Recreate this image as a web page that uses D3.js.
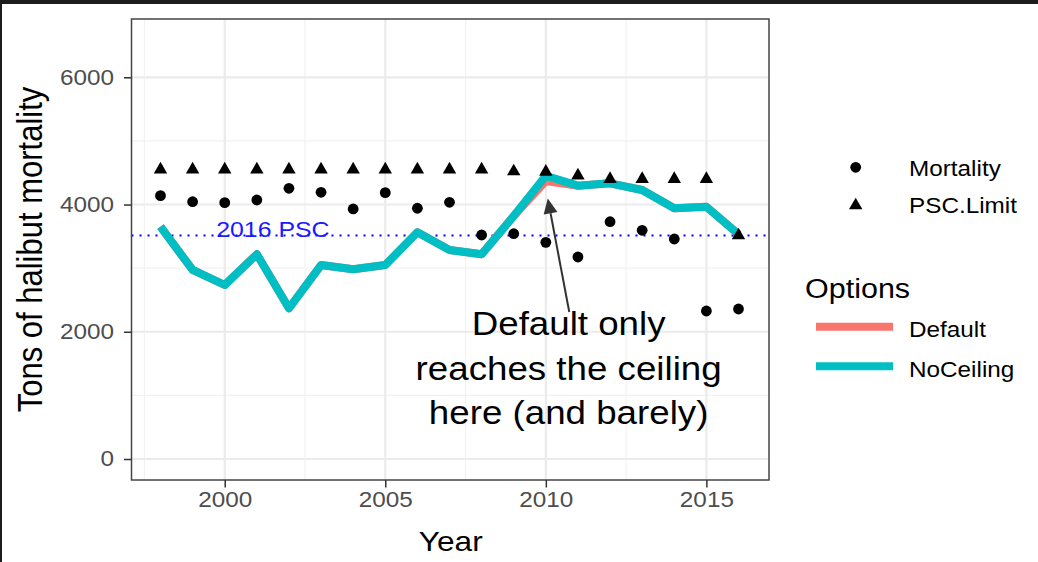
<!DOCTYPE html>
<html><head><meta charset="utf-8">
<script src="https://cdn.jsdelivr.net/npm/d3@7"></script>
<style>body{margin:0;background:#fff}svg{display:block}text{font-family:"Liberation Sans",Arial,Helvetica,sans-serif}</style>
</head><body><svg id="c" width="1038" height="562"></svg>
<script>
// ---- data ----
const years      = [1998,1999,2000,2001,2002,2003,2004,2005,2006,2007,2008,2009,2010,2011,2012,2013,2014,2015,2016];
const mortality  = [4139,4044,4029,4071,4255,4192,3930,4186,3941,4035,3521,3541,3406,3175,3730,3595,3458,2326,2358];
const pscLimit   = [4550,4550,4550,4550,4550,4550,4550,4550,4550,4550,4550,4520,4515,4455,4400,4400,4400,4400,3515];
const noCeiling  = [3651,2971,2735,3218,2369,3049,2982,3049,3563,3285,3218,3820,4453,4296,4333,4228,3940,3966,3532];
const defaultOpt = [3651,2971,2735,3218,2369,3049,2982,3049,3563,3285,3218,3820,4370,4296,4333,4228,3940,3966,3532];
const psc2016 = 3515;
const xMajor = [2000,2005,2010,2015];
const xMinor = [1997.5,2002.5,2007.5,2012.5];
const yMajor = [0,2000,4000,6000];
const yMinor = [1000,3000,5000];
const optionNames = ["Default","NoCeiling"];
const optionColors = ["#F8766D","#00BFC4"];
const shapeNames = ["Mortality","PSC.Limit"];
const noteLines = ["Default only","reaches the ceiling","here (and barely)"];

// ---- setup ----
const W=1038,H=562,SX=1.13;
const svg=d3.select("#c");
svg.append("rect").attr("width",W).attr("height",H).attr("fill","#fff");
svg.append("rect").attr("x",0).attr("y",0).attr("width",W).attr("height",4).attr("fill","#1c1c1c");
svg.append("rect").attr("x",0).attr("y",0).attr("width",2).attr("height",H).attr("fill","#1c1c1c");

const P={l:131.5,r:769,t:19,b:480};
const x=d3.scaleLinear().domain([1997.097,2016.95]).range([P.l,P.r]);
const y=d3.scaleLinear().domain([-330,6916]).range([P.b,P.t]);

function stretchX(sel){
  sel.each(function(){
    const e=d3.select(this);
    const tx=+e.attr("x")||0, ty=+e.attr("y")||0;
    const pre=e.attr("transform")||"";
    e.attr("transform",`${pre} translate(${tx},${ty}) scale(${SX},1) translate(${-tx},${-ty})`);
  });
}

// grid
const g=svg.append("g");
g.selectAll(".xm").data(xMinor).join("line").attr("x1",d=>x(d)).attr("x2",d=>x(d)).attr("y1",P.t).attr("y2",P.b).attr("stroke","#f2f2f2").attr("stroke-width",1.2);
g.selectAll(".ym").data(yMinor).join("line").attr("y1",d=>y(d)).attr("y2",d=>y(d)).attr("x1",P.l).attr("x2",P.r).attr("stroke","#f2f2f2").attr("stroke-width",1.2);
g.selectAll(".xM").data(xMajor).join("line").attr("x1",d=>x(d)).attr("x2",d=>x(d)).attr("y1",P.t).attr("y2",P.b).attr("stroke","#ebebeb").attr("stroke-width",2.2);
g.selectAll(".yM").data(yMajor).join("line").attr("y1",d=>y(d)).attr("y2",d=>y(d)).attr("x1",P.l).attr("x2",P.r).attr("stroke","#ebebeb").attr("stroke-width",2.2);

// PSC line
svg.append("line").attr("x1",P.l).attr("x2",P.r).attr("y1",y(psc2016)).attr("y2",y(psc2016))
  .attr("stroke","#0000ff").attr("stroke-width",2).attr("stroke-dasharray","2,6");
svg.append("text").attr("x",x(2001.5)).attr("y",y(3494)).attr("text-anchor","middle")
  .attr("font-size",22).attr("fill","#1a1aff").text("2016 PSC").call(stretchX);

// lines
const line=d3.line().x((d,i)=>x(years[i])).y(d=>y(d));
[defaultOpt,noCeiling].forEach((s,k)=>{
  svg.append("path").attr("d",line(s)).attr("fill","none").attr("stroke",optionColors[k])
    .attr("stroke-width",8).attr("stroke-linejoin","round");
});

// points
svg.append("g").selectAll("circle").data(mortality).join("circle")
  .attr("cx",(d,i)=>x(years[i])).attr("cy",d=>y(d)).attr("r",5.4).attr("fill","#000");
const tri=d3.symbol().type(d3.symbolTriangle).size(78);
svg.append("g").selectAll("path").data(pscLimit).join("path")
  .attr("d",tri).attr("transform",(d,i)=>`translate(${x(years[i])},${y(d)})`).attr("fill","#000");

// panel border
svg.append("rect").attr("x",P.l).attr("y",P.t).attr("width",P.r-P.l).attr("height",P.b-P.t)
  .attr("fill","none").attr("stroke","#444").attr("stroke-width",1.5);

// axes
const ya=svg.append("g").attr("transform",`translate(${P.l},0)`)
  .call(d3.axisLeft(y).tickValues(yMajor).tickSize(7.5).tickPadding(10).tickFormat(d3.format("d")));
const xa=svg.append("g").attr("transform",`translate(0,${P.b})`)
  .call(d3.axisBottom(x).tickValues(xMajor).tickSize(7.5).tickPadding(4.5).tickFormat(d3.format("d")));
[ya,xa].forEach(a=>{
  a.select(".domain").remove();
  a.selectAll(".tick line").attr("stroke","#333").attr("stroke-width",1.5);
  a.selectAll(".tick text").attr("font-size",21.5).attr("fill","#4d4d4d").attr("font-family",null).call(stretchX);
});

// axis titles
svg.append("text").attr("x",x(2007.04)).attr("y",551).attr("text-anchor","middle").attr("font-size",28)
  .attr("fill","#000").text("Year").call(stretchX);
svg.append("text").attr("transform",`translate(42,${(P.t+P.b)/2}) rotate(-90) scale(1,${SX})`)
  .attr("text-anchor","middle").attr("font-size",31).attr("fill","#000").text("Tons of halibut mortality");

// annotation
const tip=[x(2010.06),y(4095)], st=[x(2010.73),y(2311)];
const dx=tip[0]-st[0], dy=tip[1]-st[1], L=Math.hypot(dx,dy), ux=dx/L, uy=dy/L;
const hl=15, hw=7;
const bx=tip[0]-ux*hl, by=tip[1]-uy*hl;
svg.append("line").attr("x1",st[0]).attr("y1",st[1]).attr("x2",bx).attr("y2",by).attr("stroke","#333").attr("stroke-width",2);
svg.append("path").attr("d",`M${tip[0]},${tip[1]}L${bx-uy*hw},${by+ux*hw}L${bx+uy*hw},${by-ux*hw}Z`).attr("fill","#333");
svg.append("g").selectAll("text").data(noteLines).join("text")
  .attr("x",x(2010.71)).attr("y",(d,i)=>y(1949)+i*44.5).attr("text-anchor","middle")
  .attr("font-size",32.5).attr("fill","#000").text(d=>d).call(stretchX);

// legend: shapes
const lg=svg.append("g");
lg.append("circle").attr("cx",855.7).attr("cy",167.3).attr("r",5.4).attr("fill","#000");
lg.append("path").attr("d",tri).attr("transform","translate(855.7,205.5)").attr("fill","#000");
lg.selectAll(".sl").data(shapeNames).join("text").attr("x",909).attr("y",(d,i)=>176+i*37.5)
  .attr("font-size",21.5).attr("fill","#000").text(d=>d).call(stretchX);
// legend: options
lg.append("text").attr("x",805).attr("y",298.5).attr("font-size",27).attr("fill","#000").text("Options").call(stretchX);
optionNames.forEach((n,i)=>{
  lg.append("line").attr("x1",816).attr("x2",893).attr("y1",326.7+i*39.5).attr("y2",326.7+i*39.5)
    .attr("stroke",optionColors[i]).attr("stroke-width",8);
  lg.append("text").attr("x",909).attr("y",336.7+i*40.3).attr("font-size",21.5).attr("fill","#000").text(n).call(stretchX);
});
</script></body></html>
